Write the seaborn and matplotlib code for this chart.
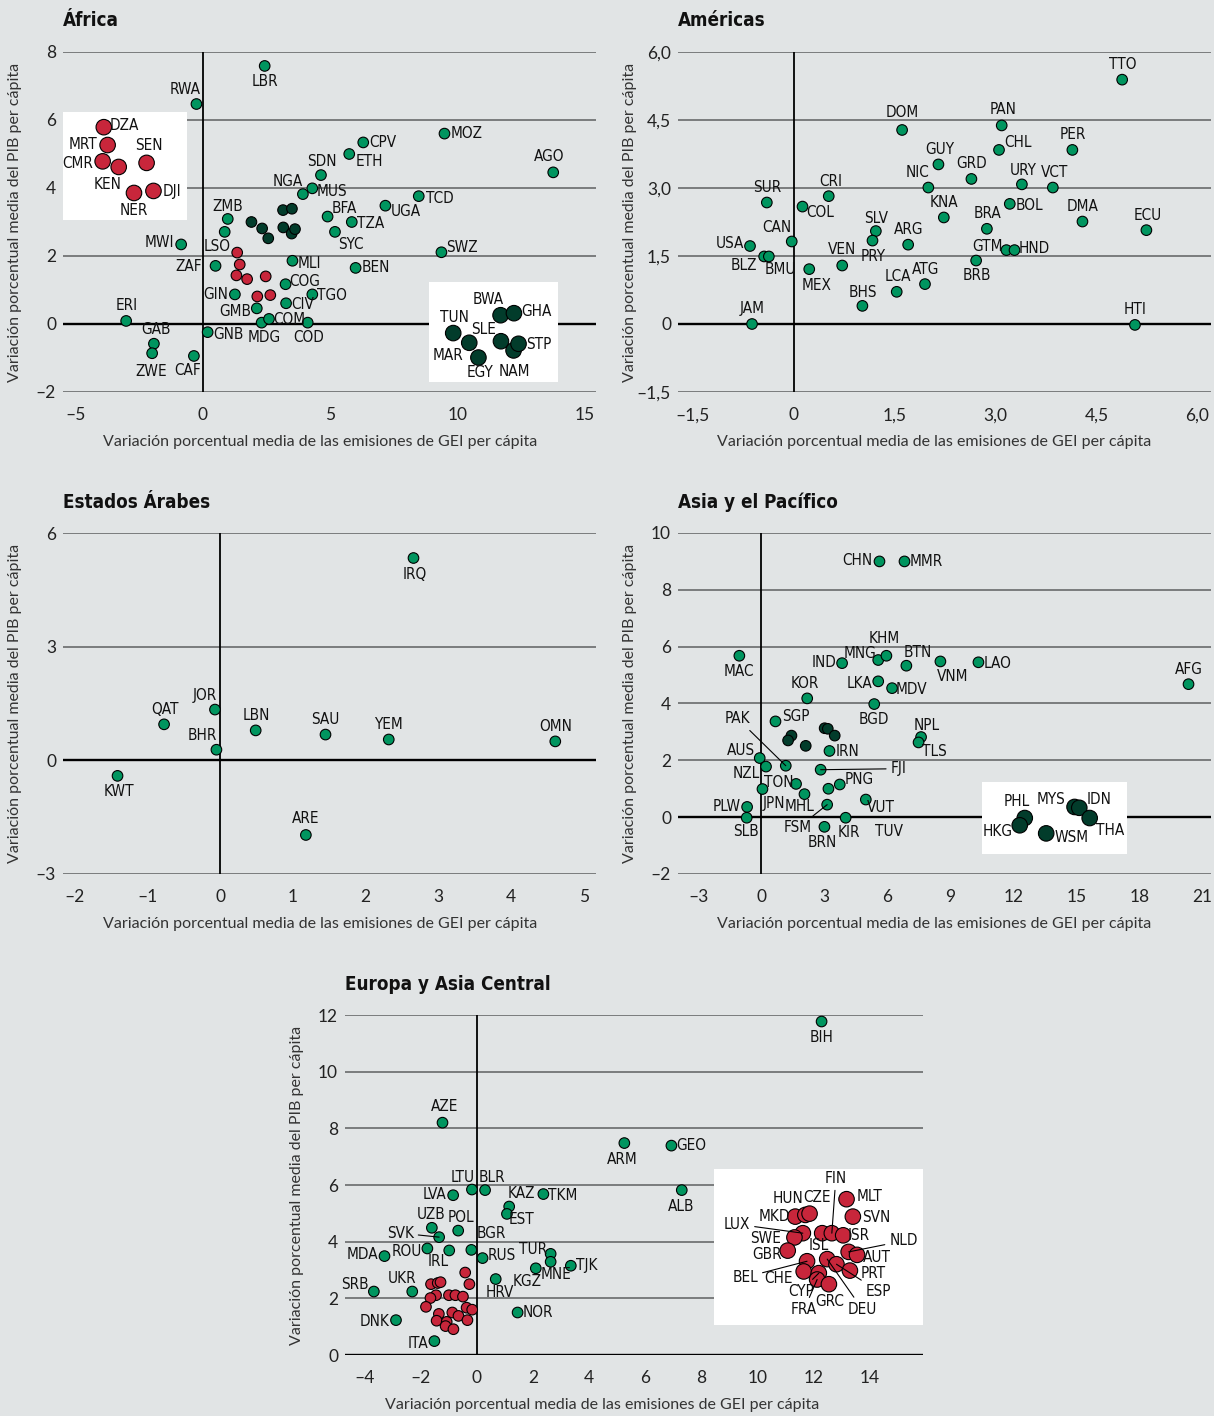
import matplotlib
matplotlib.use('Agg')
import matplotlib.pyplot as plt
from matplotlib import font_manager
import seaborn as sns
import pandas as pd

# ==========================================
# 1. DADOS
# ==========================================
# grupo: 'v' = verde, 'r' = vermelho (ampliado), 'e' = verde escuro (ampliado)

AFR_COD = ['LBR', 'RWA', 'MWI', 'ERI', 'GAB', 'ZWE', 'CAF', 'GNB', 'MDG', 'COM', 'GMB', 'GIN',
           'ZAF', 'LSO', 'ZMB', 'MLI', 'COG', 'CIV', 'TGO', 'COD', 'NGA', 'MUS', 'SDN', 'ETH',
           'CPV', 'BFA', 'TZA', 'SYC', 'BEN', 'UGA', 'TCD', 'MOZ', 'SWZ', 'AGO',
           'DZA', 'MRT', 'CMR', 'KEN', 'SEN', 'NER', 'DJI',
           'TUN', 'MAR', 'EGY', 'BWA', 'GHA', 'SLE', 'NAM', 'STP']
AFR_X = [2.44, -0.24, -0.84, -3.0, -1.91, -1.98, -0.34, 0.20, 2.32, 2.61, 2.13, 1.27,
         0.51, 0.87, 0.99, 3.53, 3.26, 3.28, 4.31, 4.13, 3.94, 4.31, 4.65, 5.76,
         6.31, 4.91, 5.86, 5.20, 6.01, 7.18, 8.49, 9.50, 9.38, 13.77,
         1.36, 1.46, 1.33, 1.75, 2.48, 2.15, 2.66,
         1.92, 2.34, 2.58, 3.16, 3.51, 3.17, 3.50, 3.63]
AFR_Y = [7.59, 6.47, 2.34, 0.09, -0.58, -0.86, -0.94, -0.24, 0.04, 0.15, 0.46, 0.87,
         1.71, 2.71, 3.09, 1.86, 1.17, 0.61, 0.87, 0.04, 3.82, 3.99, 4.38, 5.00,
         5.34, 3.16, 3.00, 2.71, 1.65, 3.48, 3.76, 5.60, 2.11, 4.46,
         2.10, 1.75, 1.43, 1.32, 1.40, 0.81, 0.85,
         3.00, 2.81, 2.52, 3.35, 3.39, 2.84, 2.66, 2.79]
AFR_GRUPO = ['v'] * 34 + ['r'] * 7 + ['e'] * 8

AME_COD = ['TTO', 'DOM', 'PAN', 'CHL', 'PER', 'GUY', 'GRD', 'NIC', 'URY', 'VCT', 'SUR', 'CRI',
           'COL', 'KNA', 'BOL', 'BRA', 'DMA', 'ECU', 'SLV', 'PRY', 'ARG', 'CAN', 'USA', 'BLZ',
           'BMU', 'GTM', 'HND', 'BRB', 'VEN', 'MEX', 'ATG', 'LCA', 'BHS', 'JAM', 'HTI']
AME_X = [4.88, 1.61, 3.09, 3.05, 4.14, 2.15, 2.64, 2.00, 3.39, 3.85, -0.40, 0.52,
         0.13, 2.23, 3.21, 2.87, 4.29, 5.24, 1.22, 1.17, 1.70, -0.03, -0.65, -0.44,
         -0.37, 3.16, 3.28, 2.71, 0.72, 0.23, 1.95, 1.53, 1.02, -0.62, 5.07]
AME_Y = [5.39, 4.28, 4.38, 3.84, 3.84, 3.52, 3.20, 3.01, 3.08, 3.01, 2.68, 2.82,
         2.59, 2.35, 2.65, 2.10, 2.26, 2.07, 2.05, 1.84, 1.75, 1.82, 1.72, 1.49,
         1.49, 1.63, 1.63, 1.40, 1.29, 1.21, 0.88, 0.71, 0.40, 0.00, -0.02]
AME_GRUPO = ['v'] * 35

ARA_COD = ['IRQ', 'QAT', 'JOR', 'BHR', 'LBN', 'SAU', 'YEM', 'OMN', 'KWT', 'ARE']
ARA_X = [2.66, -0.77, -0.07, -0.05, 0.49, 1.45, 2.32, 4.61, -1.41, 1.18]
ARA_Y = [5.34, 0.95, 1.34, 0.28, 0.79, 0.68, 0.55, 0.50, -0.41, -1.97]
ARA_GRUPO = ['v'] * 10

ASI_COD = ['CHN', 'MMR', 'MAC', 'IND', 'MNG', 'KHM', 'BTN', 'VNM', 'LAO', 'AFG', 'LKA', 'MDV',
           'KOR', 'BGD', 'NPL', 'TLS', 'SGP', 'PAK', 'AUS', 'NZL', 'IRN', 'FJI', 'TON', 'JPN',
           'MHL', 'TUV', 'PNG', 'FSM', 'VUT', 'PLW', 'SLB', 'KIR', 'BRN',
           'PHL', 'HKG', 'WSM', 'MYS', 'IDN', 'THA']
ASI_X = [5.62, 6.81, -1.05, 3.84, 5.56, 5.95, 6.90, 8.52, 10.33, 20.33, 5.56, 6.22,
         2.18, 5.37, 7.60, 7.48, 0.67, 1.16, -0.08, 0.22, 3.24, 2.82, 1.65, 0.05,
         2.05, 3.19, 3.73, 3.13, 4.97, -0.68, -0.70, 4.01, 3.00,
         1.43, 1.27, 2.11, 3.01, 3.16, 3.49]
ASI_Y = [9.00, 9.00, 5.68, 5.42, 5.53, 5.68, 5.33, 5.48, 5.45, 4.68, 4.78, 4.54,
         4.18, 3.98, 2.82, 2.63, 3.37, 1.81, 2.08, 1.78, 2.33, 1.67, 1.17, 0.99,
         0.81, 1.00, 1.15, 0.44, 0.62, 0.36, -0.02, -0.02, -0.34,
         2.87, 2.70, 2.51, 3.13, 3.11, 2.87]
ASI_GRUPO = ['v'] * 33 + ['e'] * 6

EUR_COD = ['AZE', 'LTU', 'BLR', 'LVA', 'KAZ', 'EST', 'TKM', 'UZB', 'SVK', 'POL', 'BGR', 'MDA',
           'ROU', 'IRL', 'RUS', 'TUR', 'MNE', 'KGZ', 'TJK', 'HRV', 'SRB', 'UKR', 'NOR', 'DNK',
           'ITA', 'BIH', 'ARM', 'GEO', 'ALB',
           'MKD', 'HUN', 'CZE', 'MLT', 'SVN', 'LUX', 'SWE', 'GBR', 'ISL', 'FIN', 'ISR',
           'NLD', 'AUT', 'BEL', 'CHE', 'CYP', 'FRA', 'GRC', 'DEU', 'ESP', 'PRT']
EUR_X = [-1.23, -0.18, 0.29, -0.85, 1.15, 1.07, 2.37, -1.61, -1.35, -0.67, -0.20, -3.30,
         -1.77, -0.99, 0.20, 2.63, 2.63, 2.10, 3.35, 0.67, -3.68, -2.31, 1.45, -2.89,
         -1.52, 12.30, 5.26, 6.94, 7.31,
         -1.64, -1.40, -1.30, -0.42, -0.27, -1.46, -1.66, -1.82, -1.00, -0.77, -0.50,
         -0.37, -0.17, -1.36, -1.44, -1.08, -1.12, -0.84, -0.88, -0.66, -0.34]
EUR_Y = [8.20, 5.84, 5.82, 5.64, 5.24, 4.98, 5.68, 4.49, 4.16, 4.39, 3.71, 3.49,
         3.76, 3.69, 3.42, 3.57, 3.29, 3.06, 3.15, 2.68, 2.24, 2.24, 1.50, 1.23,
         0.49, 11.77, 7.48, 7.39, 5.82,
         2.50, 2.54, 2.57, 2.91, 2.50, 2.11, 2.01, 1.70, 2.11, 2.11, 2.06,
         1.67, 1.60, 1.45, 1.21, 1.17, 1.02, 0.91, 1.50, 1.38, 1.23]
EUR_GRUPO = ['v'] * 29 + ['r'] * 21

# ==========================================
# 2. POSIÇÃO DOS RÓTULOS (pixels: direita, baixo)
# ==========================================
AFR_ROT = {'LBR': (0, 16), 'RWA': (-11, -15), 'MWI': (-22, -2), 'ERI': (1, -15), 'GAB': (2, -14),
           'ZWE': (-1, 18), 'CAF': (-6, 15), 'GNB': (21, 2), 'MDG': (3, 15), 'COM': (20, 1),
           'GMB': (-22, 3), 'GIN': (-19, 0), 'ZAF': (-27, 1), 'LSO': (-8, 15), 'ZMB': (0, -12),
           'MLI': (17, 3), 'COG': (19, -3), 'CIV': (17, 1), 'TGO': (20, 1), 'COD': (1, 15),
           'NGA': (-15, -13), 'MUS': (20, 3), 'SDN': (1, -14), 'ETH': (20, 7), 'CPV': (20, 0),
           'BFA': (17, -8), 'TZA': (19, 1), 'SYC': (16, 13), 'BEN': (20, 0), 'UGA': (20, 6),
           'TCD': (21, 2), 'MOZ': (22, 0), 'SWZ': (21, -5), 'AGO': (-4, -16),
           'DZA': (21, -2), 'MRT': (-25, -1), 'CMR': (-25, 2), 'KEN': (-11, 18), 'SEN': (2, -17),
           'NER': (0, 18), 'DJI': (18, 1),
           'TUN': (1, -16), 'MAR': (-21, 13), 'EGY': (2, 15), 'BWA': (-12, -16), 'GHA': (22, -2),
           'SLE': (-17, -12), 'NAM': (1, 21), 'STP': (20, 1)}
AME_ROT = {'TTO': (1, -15), 'DOM': (0, -17), 'PAN': (1, -16), 'CHL': (19, -7), 'PER': (0, -15),
           'GUY': (1, -15), 'GRD': (0, -15), 'NIC': (-11, -15), 'URY': (1, -14), 'VCT': (2, -15),
           'SUR': (0, -15), 'CRI': (2, -15), 'COL': (18, 6), 'KNA': (0, -15), 'BOL': (20, 2),
           'BRA': (1, -15), 'DMA': (0, -15), 'ECU': (1, -15), 'SLV': (0, -13), 'PRY': (1, 16),
           'ARG': (0, -15), 'CAN': (-15, -14), 'USA': (-20, -3), 'BLZ': (-20, 9), 'BMU': (12, 13),
           'GTM': (-19, -4), 'HND': (20, -2), 'BRB': (1, 15), 'VEN': (0, -16), 'MEX': (7, 16),
           'ATG': (1, -15), 'LCA': (1, -15), 'BHS': (0, -13), 'JAM': (0, -15), 'HTI': (0, -15)}
ARA_ROT = {'IRQ': (1, 16), 'QAT': (1, -15), 'JOR': (-10, -14), 'BHR': (-14, -14), 'LBN': (1, -15),
           'SAU': (0, -15), 'YEM': (0, -15), 'OMN': (0, -15), 'KWT': (1, 16), 'ARE': (0, -16)}
ASI_ROT = {'CHN': (-22, -1), 'MMR': (22, 0), 'MAC': (0, 16), 'IND': (-18, -1), 'MNG': (-18, -7),
           'KHM': (-2, -17), 'BTN': (11, -13), 'VNM': (12, 15), 'LAO': (19, 1), 'AFG': (0, -15),
           'LKA': (-19, 2), 'MDV': (19, 1), 'KOR': (-2, -15), 'BGD': (0, 15), 'NPL': (6, -12),
           'TLS': (16, 9), 'SGP': (20, -5), 'PAK': (-48, -47), 'AUS': (-19, -8), 'NZL': (-20, 7),
           'IRN': (18, 1), 'FJI': (78, -1), 'TON': (-17, -1), 'JPN': (11, 14), 'MHL': (-5, 12),
           'TUV': (61, 43), 'PNG': (19, -5), 'FSM': (-29, 23), 'VUT': (15, 8), 'PLW': (-20, 0),
           'SLB': (-1, 14), 'KIR': (3, 15), 'BRN': (-2, 16),
           'PHL': (-8, -17), 'HKG': (-22, 6), 'WSM': (25, 4), 'MYS': (-24, -7), 'IDN': (20, -8),
           'THA': (20, 12)}
EUR_ROT = {'AZE': (2, -16), 'LTU': (-9, -12), 'BLR': (7, -13), 'LVA': (-19, -1), 'KAZ': (12, -13),
           'EST': (15, 6), 'TKM': (19, 1), 'UZB': (-1, -13), 'SVK': (-39, -4), 'POL': (3, -13),
           'BGR': (20, -16), 'MDA': (-22, -2), 'ROU': (-21, 3), 'IRL': (-11, 11), 'RUS': (19, -3),
           'TUR': (-18, -4), 'MNE': (5, 13), 'KGZ': (-9, 13), 'TJK': (16, 0), 'HRV': (4, 13),
           'SRB': (-19, -7), 'UKR': (-10, -13), 'NOR': (20, 0), 'DNK': (-21, 1), 'ITA': (-16, 2),
           'BIH': (0, 16), 'ARM': (-2, 16), 'GEO': (20, 0), 'ALB': (-1, 16),
           'MKD': (-21, 0), 'HUN': (-17, -16), 'CZE': (7, -16), 'MLT': (23, -3), 'SVN': (23, 1),
           'LUX': (-66, -9), 'SWE': (-29, 1), 'GBR': (-21, 4), 'ISL': (-3, 12), 'FIN': (4, -55),
           'ISR': (16, 0), 'NLD': (55, -11), 'AUT': (20, 3), 'BEL': (-62, 16), 'CHE': (-25, 7),
           'CYP': (-18, 18), 'FRA': (-13, 30), 'GRC': (1, 17), 'DEU': (35, 50), 'ESP': (42, 27),
           'PRT': (23, 3)}
# rótulos ligados ao ponto por uma linha
LIDERES = {'PAK', 'FJI', 'FSM', 'SVK', 'FIN', 'LUX', 'NLD', 'BEL', 'CYP', 'FRA', 'DEU', 'ESP'}

# ==========================================
# 3. ESTILO
# ==========================================
FIG_W, FIG_H = 1214, 1416
FUNDO = '#E1E4E5'
GRADE = '#5E6060'
PALETA = {'v': '#00955F', 'r': '#C8263B', 'e': '#023C2B'}
AMPLIACAO = 1.5
TXT_X = 'Variación porcentual media de las emisiones de GEI per cápita'
TXT_Y = 'Variación porcentual media del PIB per cápita'

sns.set_theme(style='white')
nomes = {f.name for f in font_manager.fontManager.ttflist}
if 'Liberation Sans Narrow' in nomes:
    COND = dict(family=['Liberation Sans Narrow', 'DejaVu Sans'])
else:
    COND = dict(family=['DejaVu Sans'], fontstretch='condensed')
NORMAL = ['Lato', 'DejaVu Sans'] if 'Lato' in nomes else ['DejaVu Sans']
plt.rcParams['font.family'] = NORMAL


def fmt(v, dec):
    if v == 0:
        return '0'
    s = f'{abs(v):.{dec}f}'.replace('.', ',')
    return ('\u2013' if v < 0 else '') + s


def rotula(ax, df, rot):
    for _, r in df.iterrows():
        dx, dy = rot[r.cod]
        props = None
        if r.cod in LIDERES:
            props = dict(arrowstyle='-', color='black', lw=0.8, shrinkA=1, shrinkB=0)
        ax.annotate(r.cod, (r.x, r.y), xytext=(dx, -dy), textcoords='offset pixels',
                    ha='center', va='center', fontsize=11, color='#111111',
                    arrowprops=props, zorder=6, **COND)


def inset(ax, df_c, caixa, desloc, rot):
    axin = ax.inset_axes(caixa)
    axin.set_facecolor('white')
    for sp in axin.spines.values():
        sp.set_visible(False)
    axin.set_xticks([])
    axin.set_yticks([])
    pos = ax.get_position()
    ax_w, ax_h = pos.width * FIG_W, pos.height * FIG_H
    x0, x1 = ax.get_xlim()
    y0, y1 = ax.get_ylim()
    dpx = (x1 - x0) / ax_w / AMPLIACAO
    dpy = (y1 - y0) / ax_h / AMPLIACAO
    w_in, h_in = caixa[2] * ax_w, caixa[3] * ax_h
    esq = df_c.x.mean() - (w_in / 2 + desloc[0]) * dpx
    topo = df_c.y.mean() + (h_in / 2 + desloc[1]) * dpy
    axin.set_xlim(esq, esq + w_in * dpx)
    axin.set_ylim(topo - h_in * dpy, topo)
    sns.scatterplot(data=df_c, x='x', y='y', hue='grupo', palette=PALETA, s=125,
                    edgecolor='black', linewidth=0.8, legend=False, ax=axin, zorder=3)
    axin.set_xlabel('')
    axin.set_ylabel('')
    rotula(axin, df_c, rot)


def painel(p):
    r = p['px']  # esquerda, topo, direita, base (pixels)
    ax = fig.add_axes([r[0] / FIG_W, 1 - r[3] / FIG_H, (r[2] - r[0]) / FIG_W, (r[3] - r[1]) / FIG_H])
    ax.set_facecolor(FUNDO)
    for sp in ax.spines.values():
        sp.set_visible(False)
    df = pd.DataFrame({'cod': p['cod'], 'x': p['x'], 'y': p['y'], 'grupo': p['grupo']})
    for yv in p['yt']:
        if yv == 0:
            ax.axhline(yv, color='black', lw=1.7, zorder=1.5)
        else:
            ax.axhline(yv, color=GRADE, lw=1.1, zorder=1)
    ax.axvline(0, color='black', lw=1.3, zorder=1.5)
    sns.scatterplot(data=df, x='x', y='y', hue='grupo', palette=PALETA, s=58,
                    edgecolor='black', linewidth=0.8, legend=False, ax=ax, zorder=3)
    ax.set_xlim(p['xlim'])
    ax.set_ylim(p['ylim'])
    ax.set_xticks(p['xt'])
    ax.set_xticklabels([fmt(v, p['dec']) for v in p['xt']])
    ax.set_yticks(p['yt'])
    ax.set_yticklabels([fmt(v, p['dec']) for v in p['yt']])
    ax.tick_params(axis='x', length=0, pad=11, labelsize=12.5, colors='#222222')
    ax.tick_params(axis='y', length=0, pad=5, labelsize=12.5, colors='#222222')
    ax.set_xlabel('')
    ax.set_ylabel('')
    rotula(ax, df[df.grupo == 'v'], p['rot'])
    for grupo, caixa, desloc in p['insets']:
        inset(ax, df[df.grupo == grupo], caixa, desloc, p['rot'])
    # título e nomes dos eixos
    fig.text(r[0] / FIG_W, 1 - (r[1] - 31) / FIG_H, p['titulo'], ha='left', va='center',
             fontsize=13.5, fontweight='bold', color='#111111', **COND)
    fig.text(p['xlab'] / FIG_W, 1 - (r[3] + 50) / FIG_H, TXT_X, ha='center', va='center',
             fontsize=11.5, color='#333333')
    fig.text((r[0] - 48) / FIG_W, 1 - (r[1] + r[3]) / 2 / FIG_H, TXT_Y, ha='center',
             va='center', rotation=90, fontsize=11.5, color='#333333')
    return ax


PAINEIS = [
    dict(titulo='África', cod=AFR_COD, x=AFR_X, y=AFR_Y, grupo=AFR_GRUPO, rot=AFR_ROT,
         px=(63, 52, 596, 392), xlim=(-5.48, 15.45), ylim=(-2, 8),
         xt=[-5, 0, 5, 10, 15], yt=[-2, 0, 2, 4, 6, 8], dec=0, xlab=320,
         insets=[('r', [0.0, 0.506, 0.232, 0.318], (-1, -2)),
                 ('e', [0.687, 0.029, 0.2416, 0.294], (0, 5))]),
    dict(titulo='Américas', cod=AME_COD, x=AME_X, y=AME_Y, grupo=AME_GRUPO, rot=AME_ROT,
         px=(678, 52, 1211, 392), xlim=(-1.72, 6.2), ylim=(-1.5, 6.0),
         xt=[-1.5, 0, 1.5, 3.0, 4.5, 6.0], yt=[-1.5, 0, 1.5, 3.0, 4.5, 6.0], dec=1, xlab=934,
         insets=[]),
    dict(titulo='Estados Árabes', cod=ARA_COD, x=ARA_X, y=ARA_Y, grupo=ARA_GRUPO, rot=ARA_ROT,
         px=(63, 533, 596, 874), xlim=(-2.16, 5.17), ylim=(-3, 6),
         xt=[-2, -1, 0, 1, 2, 3, 4, 5], yt=[-3, 0, 3, 6], dec=0, xlab=320,
         insets=[]),
    dict(titulo='Asia y el Pacífico', cod=ASI_COD, x=ASI_X, y=ASI_Y, grupo=ASI_GRUPO, rot=ASI_ROT,
         px=(678, 533, 1211, 874), xlim=(-3.97, 21.4), ylim=(-2, 10),
         xt=[-3, 0, 3, 6, 9, 12, 15, 18, 21], yt=[-2, 0, 2, 4, 6, 8, 10], dec=0, xlab=934,
         insets=[('e', [0.571, 0.058, 0.2715, 0.211], (1, 0))]),
    dict(titulo='Europa y Asia Central', cod=EUR_COD, x=EUR_X, y=EUR_Y, grupo=EUR_GRUPO, rot=EUR_ROT,
         px=(345, 1015, 923, 1355), xlim=(-4.71, 15.92), ylim=(0, 12),
         xt=[-4, -2, 0, 2, 4, 6, 8, 10, 12, 14], yt=[0, 2, 4, 6, 8, 10, 12], dec=0, xlab=602,
         insets=[('r', [0.639, 0.087, 0.361, 0.4605], (4.5, -1.7))]),
]

# ==========================================
# 4. FIGURA
# ==========================================
fig = plt.figure(figsize=(FIG_W / 100, FIG_H / 100), dpi=100, facecolor=FUNDO)
for p in PAINEIS:
    painel(p)

fig.savefig('out.png', dpi=100, facecolor=FUNDO)
